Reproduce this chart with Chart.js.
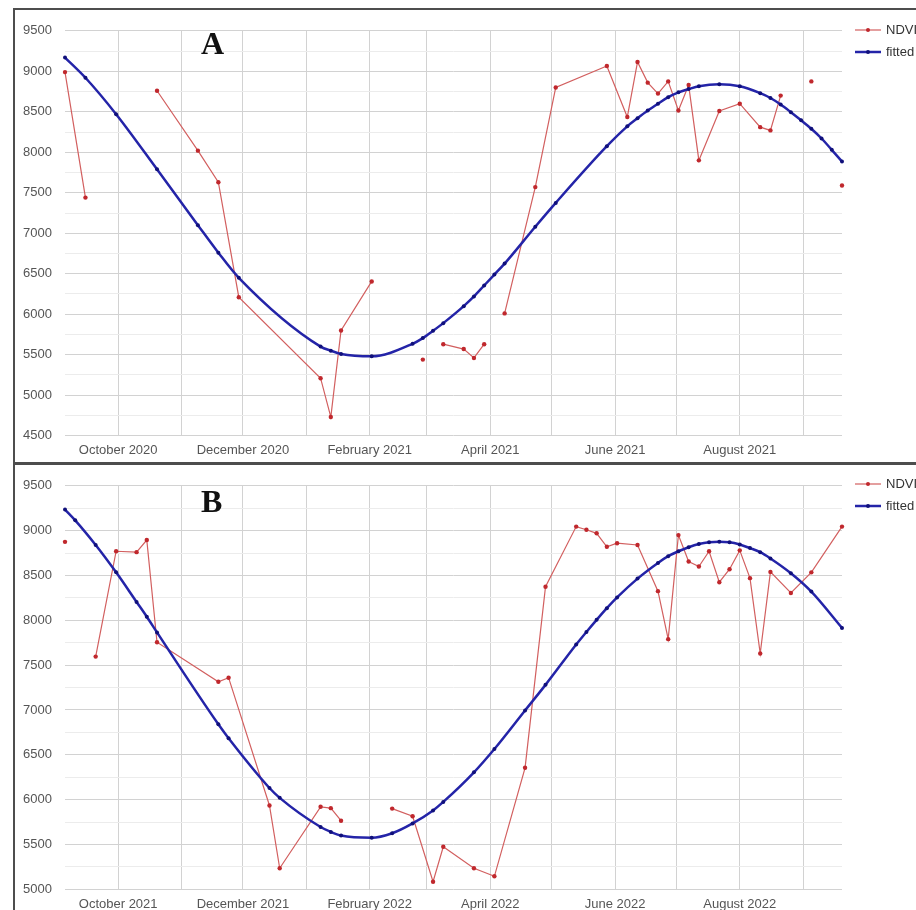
<!DOCTYPE html>
<html>
<head>
<meta charset="utf-8">
<script src="https://cdn.jsdelivr.net/npm/chart.js@4.4.1/dist/chart.umd.min.js"></script>
<style>
  html, body { margin:0; padding:0; background:#fff; }
  body { width:916px; height:910px; overflow:hidden; position:relative; font-family:"Liberation Sans", Arial, sans-serif; }
  .wrap { position:absolute; left:15px; width:901px; height:453px; }
  .line { position:absolute; background:#4d4d4d; z-index:5; }
  .ttl { position:absolute; left:201px; font:bold 32px/32px "Liberation Serif", "Times New Roman", serif; color:#111; z-index:4; }
  .leg { position:absolute; left:855px; height:16px; line-height:16px; font-size:13px; color:#333; white-space:nowrap; z-index:4; }
  .leg svg { vertical-align:middle; margin-right:1px; position:relative; top:-1px; }
</style>
</head>
<body>
<div class="wrap" style="top:10px"><canvas id="cA" width="901" height="453"></canvas></div>
<div class="wrap" style="top:465px"><canvas id="cB" width="901" height="453"></canvas></div>

<div class="line" style="left:14px; top:8px; width:902px; height:2px"></div>
<div class="line" style="left:13px; top:8px; width:2px; height:902px"></div>
<div class="line" style="left:14px; top:462px; width:902px; height:3px"></div>

<div class="ttl" style="top:27px">A</div>
<div class="ttl" style="top:485px">B</div>

<div class="leg" style="top:22px"><svg width="30" height="8"><line x1="0" y1="4" x2="26" y2="4" stroke="#d25f5f" stroke-width="1.2"/><circle cx="13" cy="4" r="2" fill="#c0282d"/></svg>NDVI</div>
<div class="leg" style="top:44px"><svg width="30" height="8"><line x1="0" y1="4" x2="26" y2="4" stroke="#2424a8" stroke-width="2.5"/><circle cx="13" cy="4" r="2" fill="#10107a"/></svg>fitted</div>
<div class="leg" style="top:476px"><svg width="30" height="8"><line x1="0" y1="4" x2="26" y2="4" stroke="#d25f5f" stroke-width="1.2"/><circle cx="13" cy="4" r="2" fill="#c0282d"/></svg>NDVI</div>
<div class="leg" style="top:498px"><svg width="30" height="8"><line x1="0" y1="4" x2="26" y2="4" stroke="#2424a8" stroke-width="2.5"/><circle cx="13" cy="4" r="2" fill="#10107a"/></svg>fitted</div>

<script>
// ---------- Panel A data (2020-2021) ----------
const datesA = ['2020-09-05','2020-09-15','2020-09-30','2020-10-20','2020-11-09','2020-11-19','2020-11-29',
  '2021-01-08','2021-01-13','2021-01-18','2021-02-02','2021-02-22','2021-02-27','2021-03-04','2021-03-09',
  '2021-03-19','2021-03-24','2021-03-29','2021-04-03','2021-04-08','2021-04-23','2021-05-03','2021-05-28',
  '2021-06-07','2021-06-12','2021-06-17','2021-06-22','2021-06-27','2021-07-02','2021-07-07','2021-07-12',
  '2021-07-22','2021-08-01','2021-08-11','2021-08-16','2021-08-21','2021-08-26','2021-08-31','2021-09-05',
  '2021-09-10','2021-09-15','2021-09-20'];
const ndviA = [8990,7440,null,8760,8020,7630,6210,
  5210,4730,5800,6405,null,5440,null,5630,
  5570,5460,5630,null,6010,7570,8800,9065,
  8435,9115,8860,8725,8875,8515,8830,7900,
  8510,8600,8310,8270,8700,null,null,8875,
  null,null,7590];
const fittedA = [9170,8920,8470,7790,7100,6760,6450,
  5600,5550,5510,5480,5635,5705,5795,5890,
  6100,6220,6355,6490,6625,7080,7375,8075,
  8320,8420,8515,8600,8680,8740,8780,8815,
  8840,8815,8730,8670,8590,8495,8395,8290,
  8170,8030,7885];
const monthsA = ['2020-10-01','2020-11-01','2020-12-01','2021-01-01','2021-02-01','2021-03-01',
  '2021-04-01','2021-05-01','2021-06-01','2021-07-01','2021-08-01','2021-09-01'];
const monthLabelsA = ['October 2020','','December 2020','','February 2021','','April 2021','','June 2021','','August 2021',''];
const yRangeA = [4500, 9500];

// ---------- Panel B data (2021-2022) ----------
const datesB = ['2021-09-05','2021-09-10','2021-09-20','2021-09-30','2021-10-10','2021-10-15','2021-10-20',
  '2021-11-19','2021-11-24','2021-12-14','2021-12-19','2022-01-08','2022-01-13','2022-01-18','2022-02-02',
  '2022-02-12','2022-02-22','2022-03-04','2022-03-09','2022-03-24','2022-04-03','2022-04-18','2022-04-28',
  '2022-05-13','2022-05-18','2022-05-23','2022-05-28','2022-06-02','2022-06-12','2022-06-22','2022-06-27',
  '2022-07-02','2022-07-07','2022-07-12','2022-07-17','2022-07-22','2022-07-27','2022-08-01','2022-08-06',
  '2022-08-11','2022-08-16','2022-08-26','2022-09-05','2022-09-20'];
const ndviB = [8875,null,7595,8770,8760,8895,7755,
  7315,7360,5935,5235,5920,5905,5765,null,
  5900,5815,5085,5475,5235,5145,6355,8375,
  9045,9010,8970,8820,8860,8840,8325,7790,
  8950,8655,8600,8770,8425,8570,8780,8470,
  7630,8540,8305,8535,9045];
const fittedB = [9235,9115,8840,8535,8205,8040,7865,
  6840,6685,6130,6020,5695,5640,5600,5575,
  5625,5735,5880,5975,6305,6565,6995,7280,
  7730,7870,8005,8135,8255,8465,8640,8715,
  8770,8815,8850,8870,8875,8870,8845,8805,
  8760,8690,8525,8320,7915];
const monthsB = ['2021-10-01','2021-11-01','2021-12-01','2022-01-01','2022-02-01','2022-03-01',
  '2022-04-01','2022-05-01','2022-06-01','2022-07-01','2022-08-01','2022-09-01'];
const monthLabelsB = ['October 2021','','December 2021','','February 2022','','April 2022','','June 2022','','August 2022',''];
const yRangeB = [5000, 9500];

// ---------- helpers ----------
function dayNum(s) { const p = s.split('-').map(Number); return Date.UTC(p[0], p[1]-1, p[2]) / 86400000; }

Chart.defaults.font.family = '"Liberation Sans", Arial, sans-serif';
Chart.defaults.font.size = 13;
Chart.defaults.color = '#555';

function makeChart(id, dates, ndvi, fitted, months, monthLabels, yRange, geo) {
  const xs = dates.map(dayNum);
  const monthVals = months.map(dayNum);
  return new Chart(document.getElementById(id), {
    type: 'line',
    data: {
      datasets: [
        {
          label: 'fitted', order: 0,
          data: xs.map((x, i) => ({ x: x, y: fitted[i] })),
          borderColor: '#2424a8', borderWidth: 2.5,
          pointRadius: 2, pointBackgroundColor: '#10107a', pointBorderWidth: 0,
          cubicInterpolationMode: 'monotone', spanGaps: false, clip: false
        },
        {
          label: 'NDVI', order: 1,
          data: xs.map((x, i) => ({ x: x, y: ndvi[i] })),
          borderColor: '#d25f5f', borderWidth: 1.2,
          pointRadius: 2.2, pointBackgroundColor: '#c0282d', pointBorderWidth: 0,
          tension: 0, spanGaps: false, clip: false
        }
      ]
    },
    options: {
      responsive: false, animation: false, devicePixelRatio: 1,
      layout: { padding: { top: geo.top, right: 74, bottom: 0, left: 0 } },
      plugins: { legend: { display: false }, tooltip: { enabled: false } },
      scales: {
        x: {
          type: 'linear', min: xs[0], max: xs[xs.length - 1],
          afterBuildTicks: (scale) => { scale.ticks = monthVals.map(v => ({ value: v })); },
          afterFit: (scale) => { scale.height = geo.xh; },
          ticks: {
            autoSkip: false, maxRotation: 0, minRotation: 0, padding: 7, color: '#555',
            callback: (v, i) => monthLabels[i]
          },
          grid: { color: '#d2d2d2', drawTicks: false, lineWidth: 1 },
          border: { display: false }
        },
        y: {
          min: yRange[0], max: yRange[1],
          afterFit: (scale) => { scale.width = 50; },
          ticks: {
            stepSize: 250, padding: 13, color: '#555',
            callback: (v) => (v % 500 === 0 ? String(v) : '')
          },
          grid: {
            drawTicks: false, lineWidth: 1,
            color: (ctx) => (ctx.tick && ctx.tick.value % 500 === 0 ? '#d2d2d2' : '#ececec')
          },
          border: { display: false }
        }
      }
    }
  });
}

makeChart('cA', datesA, ndviA, fittedA, monthsA, monthLabelsA, yRangeA, { top: 13.3, xh: 27.3 });
makeChart('cB', datesB, ndviB, fittedB, monthsB, monthLabelsB, yRangeB, { top: 12.7, xh: 28.7 });
</script>
</body>
</html>
